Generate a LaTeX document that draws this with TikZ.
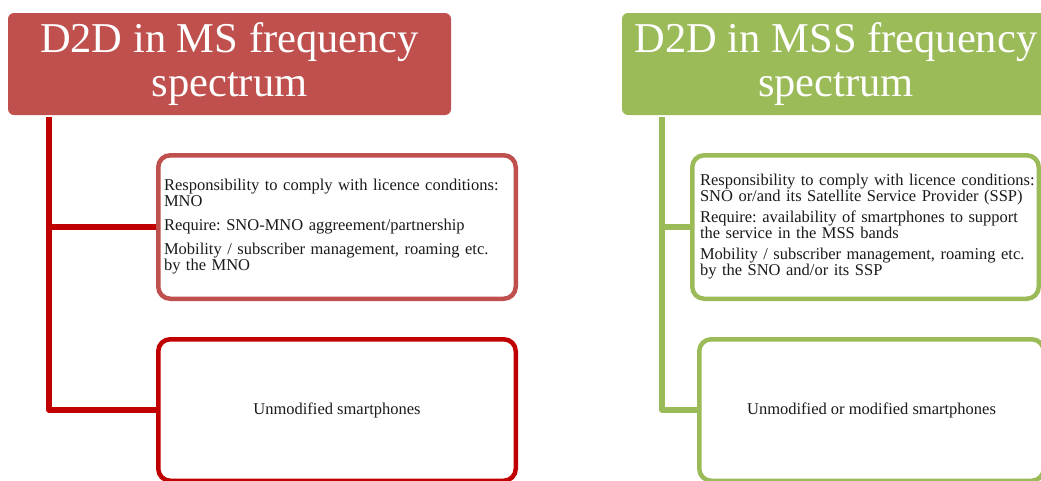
\documentclass[tikz,border=0pt]{standalone}
\usepackage{fontspec}
\setmainfont{Liberation Serif}
\usepackage{tikz}
\usepackage{xcolor}
\frenchspacing

\definecolor{kopfrot}{HTML}{C0504D}
\definecolor{dunkelrot}{HTML}{C00000}
\definecolor{kopfgruen}{HTML}{9BBB59}
\definecolor{schrift}{HTML}{1A1A1A}

\begin{document}
\begin{tikzpicture}[x=1pt, y=-1pt,
	kopf/.style={rectangle, rounded corners=6pt, text=white, align=center,
		inner sep=0pt, minimum height=102pt, font=\fontsize{42.5}{44}\selectfont},
	kasten/.style={rectangle, rounded corners=12pt, line width=4.5pt, fill=white,
		inner sep=0pt, text=schrift, font=\fontsize{16.5}{16}\selectfont},
	stamm/.style={line width=5.5pt, line join=round}]
	\clip (0,0) rectangle (1041,480);
	% linke spalte: MS
	\node[kopf, fill=kopfrot, minimum width=443pt] (ms) at (229.5,64)
		{D2D in MS frequency\\spectrum};
	\node[kasten, draw=kopfrot, minimum width=357.5pt, minimum height=143.5pt,
		text width=346pt, align=left] (msverantw) at (337,227)
		{\mbox{Responsibility to comply with licence conditions:}\\MNO\\[8pt]
		 Require: SNO-MNO aggreement/partnership\\[8pt]
		 Mobility / subscriber management, roaming etc.\\by the MNO};
	\node[kasten, draw=dunkelrot, minimum width=357.5pt, minimum height=141.5pt,
		align=center] (msgeraet) at (337,410) {Unmodified smartphones};
	% stamm und aeste
	\coordinate (mswurzel) at (49,117);
	\draw[stamm, dunkelrot] (mswurzel) |- (msverantw.west);
	\draw[stamm, dunkelrot] (mswurzel) |- (msgeraet.west);
	% rechte spalte: MSS
	\node[kopf, fill=kopfgruen, minimum width=428pt] (mss) at (836,64)
		{D2D in MSS frequency\\spectrum};
	\node[kasten, draw=kopfgruen, minimum width=346.5pt, minimum height=143.5pt,
		text width=331pt, align=left] (mssverantw) at (865.5,227)
		{\mbox{Responsibility to comply with licence conditions:}\\
		 \mbox{SNO or/and its Satellite Service Provider (SSP)}\\[5pt]
		 \mbox{Require: availability of smartphones to support}\\the service in the MSS bands\\[5pt]
		 \mbox{Mobility / subscriber management, roaming etc.}\\by the SNO and/or its SSP};
	\node[kasten, draw=kopfgruen, minimum width=344.5pt, minimum height=141.5pt,
		align=center] (mssgeraet) at (871.5,410) {Unmodified or modified smartphones};
	% stamm und aeste
	\coordinate (msswurzel) at (662,117);
	\draw[stamm, kopfgruen] (msswurzel) |- (mssverantw.west);
	\draw[stamm, kopfgruen] (msswurzel) |- (mssgeraet.west);
\end{tikzpicture}
\end{document}
